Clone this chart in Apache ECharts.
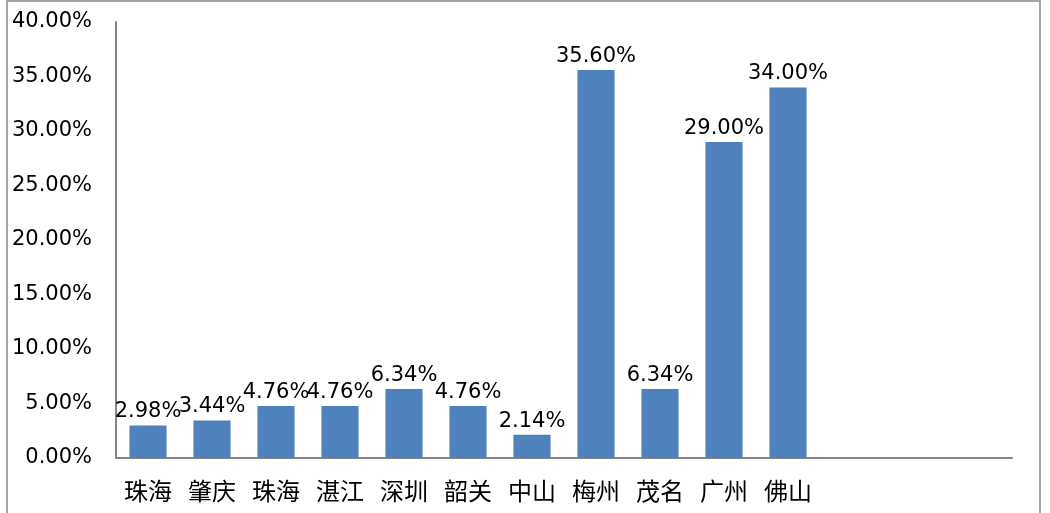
<!DOCTYPE html>
<html>
<head>
<meta charset="utf-8">
<script src="https://cdn.jsdelivr.net/npm/echarts@6/dist/echarts.min.js"></script>
<style>
  html, body { margin: 0; padding: 0; background: #fff; }
  #chart { width: 1050px; height: 513px; }
</style>
</head>
<body>
<div id="chart"></div>
<script>
// 城市占比柱状图
const cities = ['珠海', '肇庆', '珠海', '湛江', '深圳', '韶关', '中山', '梅州', '茂名', '广州', '佛山', '', '', ''];
const shares = [2.98, 3.44, 4.76, 4.76, 6.34, 4.76, 2.14, 35.60, 6.34, 29.00, 34.00];
const yTicks = [0, 5, 10, 15, 20, 25, 30, 35, 40];

function initChart() {
    const myChart = echarts.init(document.getElementById('chart'));

    const option = {
        animation: false,
        textStyle: {
            fontFamily: '"DejaVu Sans", "Noto Sans CJK SC", sans-serif'
        },
        graphic: [
            {
                type: 'rect',
                shape: { x: 7, y: 1, width: 1033, height: 530 },
                style: { fill: 'none', stroke: '#868686', lineWidth: 1.5 }
            }
        ],
        grid: {
            left: 116,
            right: 38,
            top: 22,
            bottom: 55
        },
        xAxis: {
            type: 'category',
            data: cities,
            axisLine: { lineStyle: { color: '#868686', width: 2 } },
            axisTick: { show: false },
            axisLabel: {
                interval: 0,
                margin: 21,
                color: '#000',
                fontSize: 24,
                fontFamily: '"Noto Sans CJK SC", sans-serif'
            }
        },
        yAxis: {
            type: 'value',
            min: yTicks[0],
            max: yTicks[yTicks.length - 1],
            interval: 5,
            axisLine: { show: true, lineStyle: { color: '#868686', width: 2 } },
            axisTick: { show: false },
            splitLine: { show: false },
            axisLabel: {
                margin: 24,
                color: '#000',
                fontSize: 21,
                formatter: function (v) { return v.toFixed(2) + '%'; }
            }
        },
        series: [
            {
                type: 'bar',
                data: shares,
                barWidth: '58%',
                itemStyle: { color: '#4F81BD' },
                label: {
                    show: true,
                    position: 'top',
                    distance: 3,
                    color: '#000',
                    fontSize: 21,
                    formatter: function (p) { return p.value.toFixed(2) + '%'; }
                }
            }
        ]
    };

    myChart.setOption(option);
    return myChart;
}

initChart();
</script>
</body>
</html>
